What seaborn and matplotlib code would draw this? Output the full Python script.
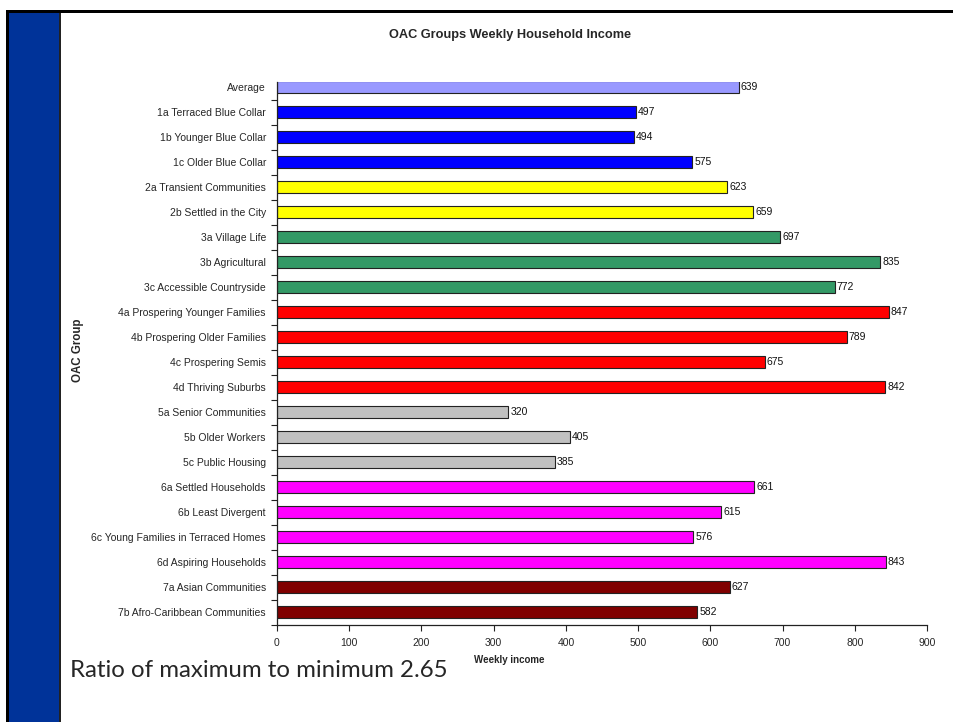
import matplotlib
matplotlib.use("Agg")
import matplotlib.pyplot as plt
from matplotlib.patches import Rectangle
from matplotlib.ticker import FixedLocator
import seaborn as sns
import pandas as pd

# OAC groups and their average weekly household income
groups = [
    "Average",
    "1a Terraced Blue Collar",
    "1b Younger Blue Collar",
    "1c Older Blue Collar",
    "2a Transient Communities",
    "2b Settled in the City",
    "3a Village Life",
    "3b Agricultural",
    "3c Accessible Countryside",
    "4a Prospering Younger Families",
    "4b Prospering Older Families",
    "4c Prospering Semis",
    "4d Thriving Suburbs",
    "5a Senior Communities",
    "5b Older Workers",
    "5c Public Housing",
    "6a Settled Households",
    "6b Least Divergent",
    "6c Young Families in Terraced Homes",
    "6d Aspiring Households",
    "7a Asian Communities",
    "7b Afro-Caribbean Communities",
]
income = [639, 497, 494, 575, 623, 659, 697, 835, 772, 847, 789, 675, 842,
          320, 405, 385, 661, 615, 576, 843, 627, 582]
bar_colors = ["#9999FF", "#0000FF", "#0000FF", "#0000FF", "#FFFF00", "#FFFF00",
              "#339966", "#339966", "#339966", "#FF0000", "#FF0000", "#FF0000",
              "#FF0000", "#C0C0C0", "#C0C0C0", "#C0C0C0", "#FF00FF", "#FF00FF",
              "#FF00FF", "#FF00FF", "#800000", "#800000"]
x_ticks = [0, 100, 200, 300, 400, 500, 600, 700, 800, 900]

df = pd.DataFrame({"group": groups, "income": income})

sns.set_style("white")
plt.rcParams["font.family"] = ["Liberation Sans", "DejaVu Sans"]

W, H = 954, 722
fig = plt.figure(figsize=(W / 100, H / 100), dpi=100)
fig.patch.set_facecolor("white")

# slide decoration: black frame lines and blue side panel
def px_rect(x0, y0, x1, y1, color):
    fig.patches.append(Rectangle((x0 / W, 1 - y1 / H), (x1 - x0) / W, (y1 - y0) / H,
                                 transform=fig.transFigure, color=color, zorder=0,
                                 linewidth=0))

px_rect(6, 10, W, 12.5, "#000000")
px_rect(6, 10, 9, H, "#000000")
px_rect(9, 12.5, 59, H, "#003399")
px_rect(59, 12.5, 60.5, H, "#222222")

ax_left, ax_right, ax_top, ax_bottom = 277, 927, 82, 624.5
ax = fig.add_axes([ax_left / W, 1 - ax_bottom / H,
                   (ax_right - ax_left) / W, (ax_bottom - ax_top) / H])

sns.barplot(data=df, x="income", y="group", hue="group", palette=bar_colors,
            legend=False, orient="h", width=0.45, edgecolor="#222222",
            linewidth=0.8, saturation=1, ax=ax)

for cont in ax.containers:
    ax.bar_label(cont, fmt="%d", padding=1.5, fontsize=7.5, color="#111111")

ax.set_xlim(0, 900)
ax.set_ylim(len(groups) - 0.5, -0.2)
ax.xaxis.set_major_locator(FixedLocator(x_ticks))
ax.yaxis.set_minor_locator(FixedLocator([i - 0.5 for i in range(len(groups) + 1)]))

ax.tick_params(axis="y", which="major", length=0, pad=8, labelsize=7.5)
ax.tick_params(axis="y", which="minor", left=True, length=4, width=0.8, color="#222222")
ax.tick_params(axis="x", which="major", bottom=True, length=4, width=0.8,
               color="#222222", labelsize=7.5, pad=6)

for side in ("top", "right"):
    ax.spines[side].set_visible(False)
for side in ("left", "bottom"):
    ax.spines[side].set_color("#222222")
    ax.spines[side].set_linewidth(0.9)

ax.set_xlabel("")
ax.set_ylabel("")
ax.set_facecolor("white")

fig.text(510 / W, 1 - 35 / H, "OAC Groups Weekly Household Income",
         ha="center", va="center", fontsize=9.2, fontweight="bold")
fig.text(78 / W, 1 - 350 / H, "OAC Group", rotation=90,
         ha="center", va="center", fontsize=8.3, fontweight="bold")
fig.text(509 / W, 1 - 660 / H, "Weekly income",
         ha="center", va="center", fontsize=7, fontweight="bold")
fig.text(70 / W, 1 - 677 / H, "Ratio of maximum to minimum 2.65",
         ha="left", va="baseline", fontsize=17.3, family=["Lato", "DejaVu Sans"])

fig.savefig("out.png", dpi=100, facecolor="white")
